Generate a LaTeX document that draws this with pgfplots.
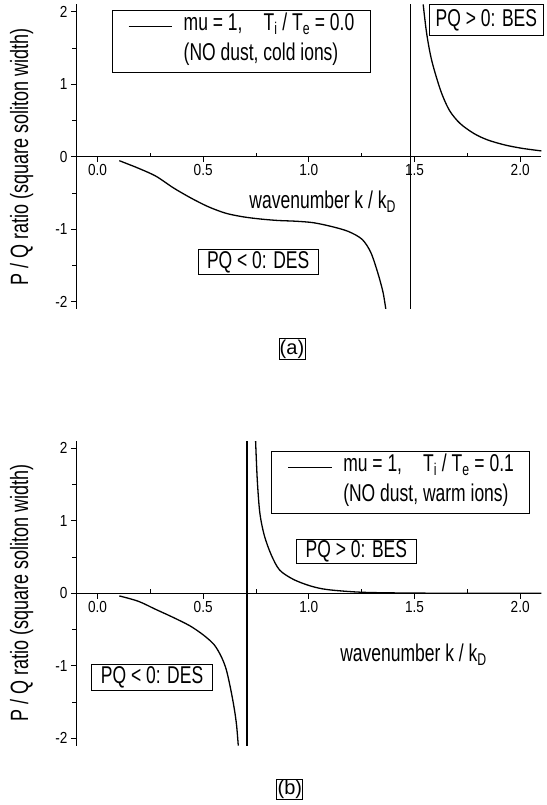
\documentclass[border=0pt]{standalone}
\usepackage{fontspec}
\setmainfont{Liberation Sans}[FakeStretch=0.72]
\newfontfamily\tickfont{Liberation Sans}[FakeStretch=0.85]
\newfontfamily\normfont{Liberation Sans}
\usepackage{pgfplots}
\pgfplotsset{compat=1.18}
\newcommand\lab{\fontsize{24.3}{25}\selectfont}
\tikzset{box/.style={draw=black, line width=0.8pt, fill=white, font=\lab, inner sep=0pt, align=center}}
\pgfplotsset{
  myaxis/.style={
    scale only axis, width=464.9pt, height=304.5pt,
    xmin=-0.1, xmax=2.1, ymin=-2.1, ymax=2.1,
    axis x line*=middle, axis y line*=left,
    hide obscured x ticks=false, hide obscured y ticks=false,
    axis line style={line width=0.9pt, -},
    xtick={0,0.5,1,1.5,2}, minor x tick num=1,
    ytick={-2,-1,0,1,2}, minor y tick num=1,
    tick align=outside,
    major tick length=5.5pt, minor tick length=4pt,
    every tick/.style={line width=0.8pt, black},
    minor x tick style={yshift=4pt},
    /pgf/number format/assume math mode=true,
    tick label style={font=\tickfont\fontsize{16}{18}\selectfont},
    xticklabel style={yshift=1pt, /pgf/number format/fixed, /pgf/number format/fixed zerofill, /pgf/number format/precision=1},
    yticklabel style={xshift=0pt},
    legend cell align=left,
    legend image code/.code={\path[draw=none] (0pt,0pt) -- (55pt,0pt); \draw[##1] (0pt,0pt) -- (43.3pt,0pt);},
    legend style={draw=black, line width=0.8pt, fill=white, font=\lab,
      inner xsep=16pt, inner ysep=4pt, row sep=6.3pt, anchor=north west,
      nodes={inner sep=0pt, text height=16pt, text depth=7.7pt}},
    clip mode=individual,
  },
}
\begin{document}
\begin{tikzpicture}
\path[use as bounding box] (0,0) rectangle (546pt,805pt);
% ---------- panel (a) ----------
\begin{axis}[myaxis, at={(76.4pt,496.05pt)}, anchor=south west,
  legend style={at={(axis cs:0.067,2.023)}}]
\addplot[black, line width=1.3pt, smooth, tension=0.5] coordinates {
(0.103,-0.055) (0.194,-0.16) (0.277,-0.27) (0.359,-0.43) (0.442,-0.57) (0.524,-0.69)
(0.607,-0.78) (0.690,-0.83) (0.772,-0.86) (0.855,-0.88) (0.938,-0.89) (1.020,-0.91)
(1.103,-0.96) (1.186,-1.03) (1.252,-1.14) (1.293,-1.32) (1.326,-1.60) (1.351,-1.87) (1.364,-2.1)};
\addlegendentry{mu = 1,\hspace{21pt}T\textsubscript{i} / T\textsubscript{e} = 0.0}
\addlegendimage{empty legend}
\addlegendentry{(NO dust, cold ions)}
\addplot[black, line width=1.3pt, forget plot] coordinates {(1.48,-2.1) (1.48,2.1)};
\addplot[black, line width=1.3pt, smooth, tension=0.5, forget plot] coordinates {
(1.541,2.1) (1.558,1.69) (1.582,1.32) (1.624,0.91) (1.665,0.64) (1.715,0.46)
(1.781,0.32) (1.847,0.23) (1.930,0.16) (2.012,0.114) (2.1,0.08)};
\node[box, minimum width=114.5pt, minimum height=31pt] at (axis cs:1.84,1.88) {PQ > 0: BES};
\node[font=\lab, anchor=base west, inner sep=0pt] at (axis cs:0.718,-0.72) {wavenumber k / k\textsubscript{D}};
\node[box, minimum width=120.4pt, minimum height=25pt] at (axis cs:0.76,-1.455) {PQ < 0: DES};
\node[font=\fontsize{25}{26}\selectfont, rotate=90] at ([xshift=-54.7pt]rel axis cs:0,0.5) {P / Q ratio (square soliton width)};
\node[draw=black, line width=0.8pt, font=\normfont\fontsize{20}{21}\selectfont, inner sep=0.8pt] at ([yshift=-40pt]axis cs:0.92,-2.1) {(a)};
\end{axis}
% ---------- panel (b) ----------
\begin{axis}[myaxis, at={(76.4pt,59.45pt)}, anchor=south west,
  legend style={at={(axis cs:0.822,1.963)}}]
\addplot[black, line width=1.3pt, smooth, tension=0.5] coordinates {
(0.103,-0.036) (0.193,-0.11) (0.274,-0.22) (0.356,-0.33) (0.438,-0.45) (0.503,-0.58)
(0.552,-0.71) (0.585,-0.87) (0.609,-1.05) (0.630,-1.32) (0.647,-1.59) (0.658,-1.82) (0.666,-2.1)};
\addlegendentry{mu = 1,\hspace{21pt}T\textsubscript{i} / T\textsubscript{e} = 0.1}
\addlegendimage{empty legend}
\addlegendentry{(NO dust, warm ions)}
\addplot[black, line width=1.3pt, forget plot] coordinates {(0.707,-2.1) (0.707,2.1)};
\addplot[black, line width=1.3pt, smooth, tension=0.5, forget plot] coordinates {
(0.748,2.1) (0.756,1.56) (0.768,1.11) (0.789,0.80) (0.822,0.53) (0.862,0.32)
(0.928,0.19) (1.009,0.10) (1.091,0.05) (1.254,0.014) (1.499,0.003) (1.8,0.0005) (2.1,0.0)};
\node[box, minimum width=119pt, minimum height=24pt] at (axis cs:1.225,0.575) {PQ > 0: BES};
\node[font=\lab, anchor=base west, inner sep=0pt] at (axis cs:1.148,-0.94) {wavenumber k / k\textsubscript{D}};
\node[box, minimum width=121pt, minimum height=26pt] at (axis cs:0.258,-1.16) {PQ < 0: DES};
\node[font=\fontsize{25}{26}\selectfont, rotate=90] at ([xshift=-54.7pt]rel axis cs:0,0.5) {P / Q ratio (square soliton width)};
\node[draw=black, line width=0.8pt, font=\normfont\fontsize{20}{21}\selectfont, inner sep=0.8pt] at ([yshift=-44pt]axis cs:0.91,-2.1) {(b)};
\end{axis}
\end{tikzpicture}
\end{document}
